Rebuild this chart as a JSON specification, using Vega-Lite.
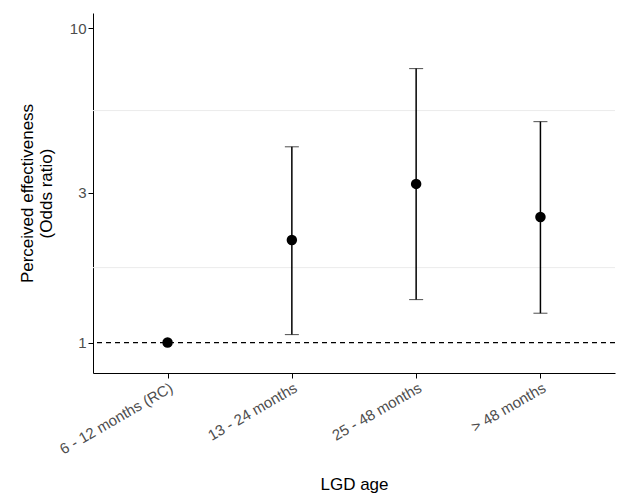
{
"$schema":"https://vega.github.io/schema/vega-lite/v6.json",
"width":522,"height":360,
"autosize":{"type":"none"},
"padding":{"left":93,"top":13,"right":2,"bottom":120},
"config":{"view":{"stroke":null},"font":"Liberation Sans","axis":{"domainColor":"black","tickColor":"black","labelColor":"#4d4d4d","labelFontSize":15,"titleFontSize":17,"titleFontWeight":"normal","titleColor":"black","grid":false}},
"datasets":{"d":[
{"age":"6 - 12 months (RC)","or":1,"lo":1,"hi":1},
{"age":"13 - 24 months","or":2.12,"lo":1.06,"hi":4.2},
{"age":"25 - 48 months","or":3.2,"lo":1.37,"hi":7.45},
{"age":"> 48 months","or":2.51,"lo":1.24,"hi":5.05}
],"g":[{"v":1.732},{"v":5.477}]},
"layer":[
{"data":{"name":"g"},"mark":{"type":"rule","color":"#ebebeb","strokeWidth":1},"encoding":{"y":{"field":"v","type":"quantitative","title":["Perceived effectiveness","(Odds ratio)"],"scale":{"type":"log","domain":[0.8,11.2]}}}},
{"data":{"values":[{"v":1}]},"mark":{"type":"rule","color":"black","strokeDash":[5,4],"strokeWidth":1.2},"encoding":{"y":{"field":"v","type":"quantitative","title":["Perceived effectiveness","(Odds ratio)"]}}},
{"data":{"name":"d"},"transform":[{"filter":"datum.hi>datum.lo"}],"mark":{"type":"errorbar","ticks":{"size":14,"color":"black","strokeWidth":1.5},"rule":{"color":"black","strokeWidth":1.5}},
 "encoding":{"x":{"field":"age","type":"nominal","sort":["6 - 12 months (RC)","13 - 24 months","25 - 48 months","> 48 months"],"title":"LGD age"},"y":{"field":"lo","type":"quantitative","title":["Perceived effectiveness","(Odds ratio)"]},"y2":{"field":"hi"}}},
{"data":{"name":"d"},"mark":{"type":"point","filled":true,"color":"black","size":110,"opacity":1},
 "encoding":{"x":{"field":"age","type":"nominal","sort":["6 - 12 months (RC)","13 - 24 months","25 - 48 months","> 48 months"],"title":"LGD age","scale":{"type":"point","padding":0.6},"axis":{"labelAngle":-30,"labelAlign":"right","labelBaseline":"top","titlePadding":20,"ticks":true}},
 "y":{"field":"or","type":"quantitative","title":["Perceived effectiveness","(Odds ratio)"],"scale":{"type":"log","domain":[0.8,11.2],"nice":false},"axis":{"values":[1,3,10],"titlePadding":14}}}}
]
}
